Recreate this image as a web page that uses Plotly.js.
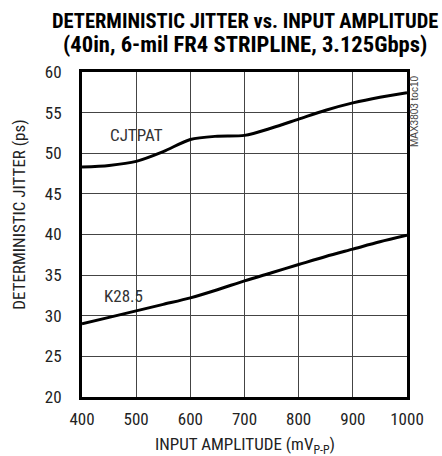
<!DOCTYPE html>
<html>
<head>
<meta charset="utf-8">
<script src="https://cdn.plot.ly/plotly-3.0.1.min.js"></script>
<style>html,body{margin:0;padding:0;background:#fff;}#chart{width:442px;height:456px;}</style>
</head>
<body>
<div id="chart"></div>
<script>
var amplitude = [400, 450, 500, 550, 600, 650, 700, 750, 800, 850, 900, 950, 1000];
var cjtpat = [48.3, 48.5, 49.0, 50.2, 51.7, 52.1, 52.2, 53.1, 54.2, 55.3, 56.2, 56.9, 57.45];
var k285 = [29.0, 29.8, 30.6, 31.4, 32.2, 33.2, 34.3, 35.3, 36.3, 37.3, 38.2, 39.1, 39.9];
var xTicks = [400, 500, 600, 700, 800, 900, 1000];
var yTicks = [20, 25, 30, 35, 40, 45, 50, 55, 60];
var titleLines = ['DETERMINISTIC JITTER vs. INPUT AMPLITUDE', '(40in, 6-mil FR4 STRIPLINE, 3.125Gbps)'];

var FONT = "'Liberation Sans Narrow', 'Arial Narrow', 'Roboto Condensed', 'Liberation Sans', sans-serif";

var traces = [
  {x: amplitude, y: cjtpat, mode: 'lines', line: {color: '#000', width: 3, shape: 'spline', smoothing: 0.8}, hoverinfo: 'skip'},
  {x: amplitude, y: k285, mode: 'lines', line: {color: '#000', width: 3, shape: 'spline', smoothing: 0.8}, hoverinfo: 'skip'}
];

var layout = {
  width: 442, height: 456,
  margin: {l: 82, r: 35, t: 72, b: 59},
  paper_bgcolor: '#fff', plot_bgcolor: '#fff',
  showlegend: false,
  font: {family: FONT, size: 17, color: '#222'},
  xaxis: {
    range: [400, 1000], tickvals: xTicks, ticktext: xTicks.map(String),
    showgrid: true, gridcolor: '#444', gridwidth: 1,
    showline: true, linecolor: '#000', linewidth: 3, mirror: true,
    ticks: 'outside', ticklen: 5, tickcolor: 'rgba(0,0,0,0)',
    zeroline: false, tickfont: {size: 17, color: '#222'}
  },
  yaxis: {
    range: [20, 60], tickvals: yTicks, ticktext: yTicks.map(String),
    showgrid: true, gridcolor: '#444', gridwidth: 1,
    showline: true, linecolor: '#000', linewidth: 3, mirror: true,
    ticks: 'outside', ticklen: 14, tickcolor: 'rgba(0,0,0,0)',
    zeroline: false, tickfont: {size: 17, color: '#222'}
  },
  annotations: [
    {text: '<b>' + titleLines[0] + '</b>', xref: 'paper', yref: 'paper', x: 0.5015, y: 1.157, xanchor: 'center', yanchor: 'middle', showarrow: false, font: {size: 20.5, color: '#000'}},
    {text: '<b>' + titleLines[1] + '</b>', xref: 'paper', yref: 'paper', x: 0.5015, y: 1.086, xanchor: 'center', yanchor: 'middle', showarrow: false, font: {size: 22.6, color: '#000'}},
    {text: 'DETERMINISTIC JITTER (ps)', xref: 'paper', yref: 'paper', x: -0.195, y: 0.56, xanchor: 'center', yanchor: 'middle', textangle: -90, showarrow: false, font: {size: 17, color: '#222'}},
    {text: 'INPUT AMPLITUDE (mV<sub>P-P</sub>)', xref: 'paper', yref: 'paper', x: 0.5, y: -0.148, xanchor: 'center', yanchor: 'middle', showarrow: false, font: {size: 17, color: '#222'}},
    {text: 'CJTPAT', xref: 'x', yref: 'y', x: 500, y: 52.3, showarrow: false, font: {size: 17, color: '#333'}},
    {text: 'K28.5', xref: 'x', yref: 'y', x: 476, y: 32.4, showarrow: false, font: {size: 17, color: '#333'}},
    {text: 'MAX3803 toc10', xref: 'paper', yref: 'paper', x: 1.025, y: 0.997, xanchor: 'center', yanchor: 'top', textangle: -90, showarrow: false, font: {size: 10, color: '#444', family: "'Liberation Sans Narrow', 'Liberation Sans', sans-serif"}}
  ]
};

Plotly.newPlot('chart', traces, layout, {staticPlot: true, displayModeBar: false});
</script>
</body>
</html>
